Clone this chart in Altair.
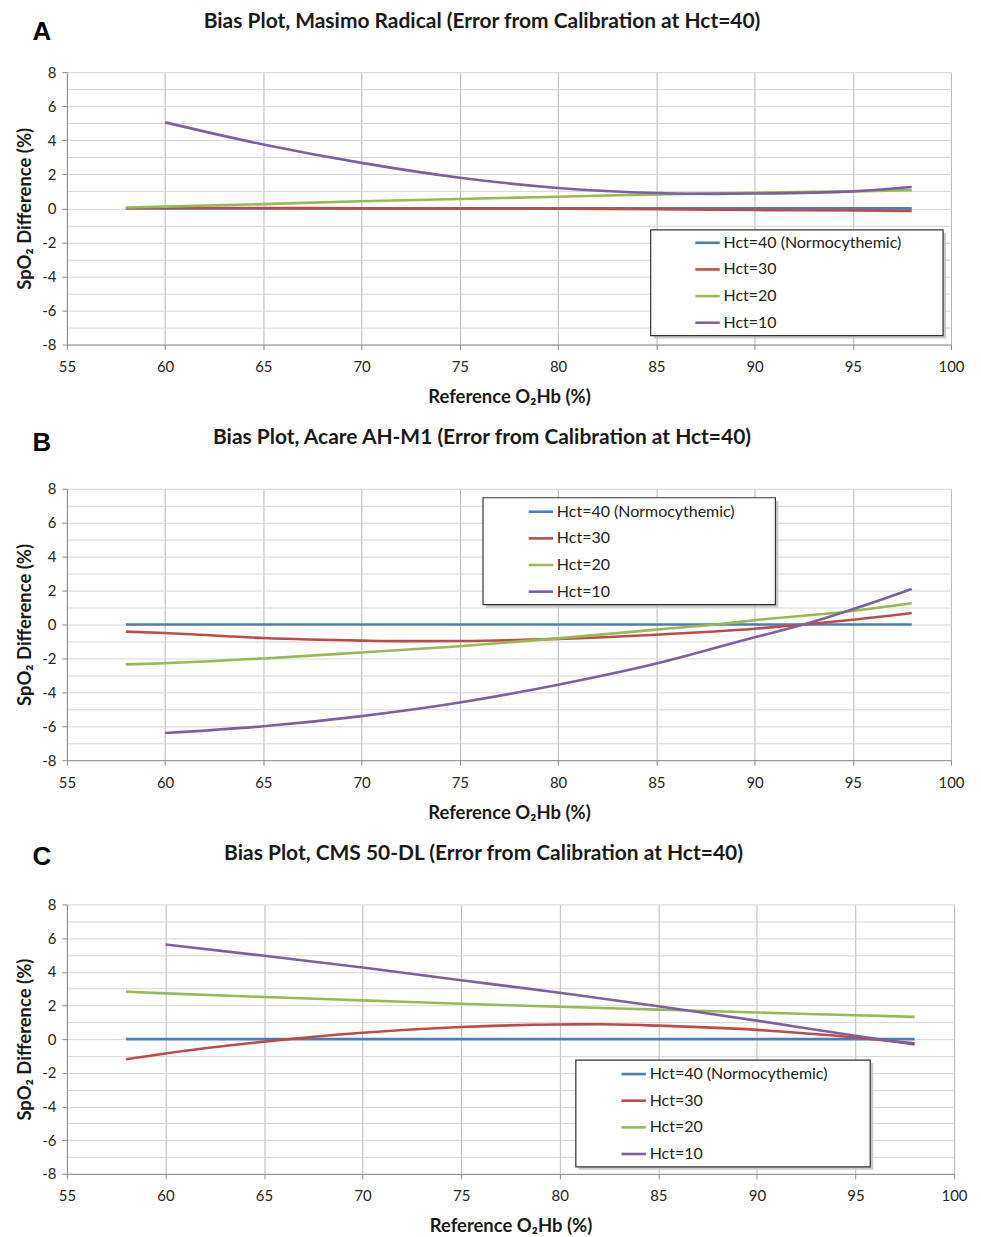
import altair as alt
import pandas as pd

SERIES = ["Hct=40 (Normocythemic)", "Hct=30", "Hct=20", "Hct=10"]
COLORS = ["#4A7EBB", "#BE4B48", "#98B954", "#7D60A0"]

# ---- Panel A: Masimo Radical ----
A_x40 = [58, 98]
A_y40 = [0.0, 0.0]
A_x30 = [58, 60, 65, 70, 75, 80, 85, 90, 95, 98]
A_y30 = [0.02, 0.02, 0.02, 0.0, 0.0, -0.02, -0.05, -0.1, -0.12, -0.15]
A_x20 = [58, 60, 65, 70, 75, 80, 85, 90, 95, 98]
A_y20 = [0.05, 0.1, 0.25, 0.42, 0.55, 0.68, 0.82, 0.92, 1.0, 1.07]
A_x10 = [60, 65, 70, 75, 80, 85, 88, 90, 95, 98]
A_y10 = [5.05, 3.75, 2.67, 1.8, 1.2, 0.9, 0.85, 0.87, 1.0, 1.25]

# ---- Panel B: Acare AH-M1 ----
B_x40 = [58, 98]
B_y40 = [0.0, 0.0]
B_x30 = [58, 60, 65, 70, 72, 75, 80, 85, 90, 92.5, 95, 98]
B_y30 = [-0.42, -0.5, -0.8, -0.95, -0.98, -0.97, -0.85, -0.6, -0.25, 0.0, 0.28, 0.68]
B_x20 = [58, 60, 65, 70, 75, 80, 85, 88, 90, 95, 98]
B_y20 = [-2.35, -2.28, -2.0, -1.65, -1.28, -0.82, -0.3, 0.0, 0.25, 0.8, 1.25]
B_x10 = [60, 65, 70, 75, 80, 85, 90, 92.5, 95, 98]
B_y10 = [-6.4, -6.0, -5.4, -4.6, -3.55, -2.3, -0.75, 0.0, 0.9, 2.1]

# ---- Panel C: CMS 50-DL ----
C_x40 = [58, 98]
C_y40 = [0.0, 0.0]
C_x30 = [58, 60, 65, 70, 75, 80, 82, 85, 90, 95, 98]
C_y30 = [-1.2, -0.85, -0.15, 0.38, 0.72, 0.87, 0.88, 0.8, 0.55, 0.1, -0.25]
C_x20 = [58, 60, 65, 70, 75, 80, 85, 90, 95, 98]
C_y20 = [2.82, 2.72, 2.5, 2.3, 2.1, 1.92, 1.75, 1.58, 1.42, 1.32]
C_x10 = [60, 65, 70, 75, 80, 85, 90, 95, 98]
C_y10 = [5.62, 4.95, 4.25, 3.5, 2.75, 1.95, 1.1, 0.2, -0.32]

X_TICKS = list(range(55, 101, 5))
Y_TICKS = list(range(-8, 9, 1))

TITLES = [
    "Bias Plot, Masimo Radical (Error from Calibration at Hct=40)",
    "Bias Plot, Acare AH-M1 (Error from Calibration at Hct=40)",
    "Bias Plot, CMS 50-DL (Error from Calibration at Hct=40)",
]
LETTERS = ["A", "B", "C"]


def make_df(xs_list, ys_list):
    rows = []
    for name, xs, ys in zip(SERIES, xs_list, ys_list):
        for x, y in zip(xs, ys):
            rows.append({"x": x, "y": y, "series": name})
    return pd.DataFrame(rows)


def panel(df, title, letter, width, height, box, legend_xy, title_y, letter_y):
    xenc = alt.X(
        "x:Q",
        scale=alt.Scale(domain=[55, 100], nice=False, zero=False),
        axis=alt.Axis(
            values=X_TICKS, title="Reference O\u2082Hb (%)", gridColor="#b8b8b8",
            labelPadding=10, titlePadding=13, labelFlush=False,
        ),
    )
    yenc = alt.Y(
        "y:Q",
        scale=alt.Scale(domain=[-8, 8], nice=False, zero=False),
        axis=alt.Axis(
            values=Y_TICKS, title="SpO\u2082 Difference (%)", gridColor="#d6d6d6",
            labelExpr="datum.value % 2 === 0 ? toString(datum.value) : ''",
            tickOpacity={"condition": {"test": "datum.value % 2 === 0", "value": 1}, "value": 0},
            labelPadding=6, titlePadding=7, labelFlush=False,
        ),
    )
    lines = alt.Chart(df).mark_line(interpolate="monotone", strokeWidth=2.6).encode(
        x=xenc,
        y=yenc,
        color=alt.Color(
            "series:N",
            scale=alt.Scale(domain=SERIES, range=COLORS),
            sort=SERIES,
            legend=alt.Legend(
                title=None, orient="none", legendX=legend_xy[0], legendY=legend_xy[1],
                symbolType="stroke", symbolStrokeWidth=2.6, symbolSize=600,
                labelFont="Lato", labelFontSize=16, labelColor="#222222", labelLimit=400,
                labelOffset=2, rowPadding=4.7, padding=0,
            ),
        ),
    )
    dummy = pd.DataFrame({"t": [letter], "title": [title]})
    x0, y0, x1, y1 = box
    shadow = alt.Chart(dummy).mark_rect(fill="#bdbdbd", opacity=0.8).encode(
        x=alt.value(x0 + 3), x2=alt.value(x1 + 3), y=alt.value(y0 + 3), y2=alt.value(y1 + 3)
    )
    frame = alt.Chart(dummy).mark_rect(fill="white", stroke="#333333", strokeWidth=1.2).encode(
        x=alt.value(x0), x2=alt.value(x1), y=alt.value(y0), y2=alt.value(y1)
    )
    lab = alt.Chart(dummy).mark_text(
        font="Liberation Sans", fontSize=26, fontWeight="bold", color="black",
        align="center", baseline="middle",
    ).encode(text="t:N", x=alt.value(-25), y=alt.value(letter_y))
    ttl = alt.Chart(dummy).mark_text(
        font="Lato", fontSize=21, fontWeight="bold", color="#1a1a1a",
        align="center", baseline="middle",
    ).encode(text="title:N", x=alt.value(width / 2 - 27), y=alt.value(title_y))
    return alt.layer(shadow, frame, lines, lab, ttl).properties(width=width, height=height)


dfA = make_df([A_x40, A_x30, A_x20, A_x10], [A_y40, A_y30, A_y20, A_y10])
dfB = make_df([B_x40, B_x30, B_x20, B_x10], [B_y40, B_y30, B_y20, B_y10])
dfC = make_df([C_x40, C_x30, C_x20, C_x10], [C_y40, C_y30, C_y20, C_y10])

pA = panel(dfA, TITLES[0], LETTERS[0], 886, 273, (585, 158, 878, 264), (628, 157), -50, -40)
pB = panel(dfB, TITLES[1], LETTERS[1], 886, 272, (417, 9, 710, 116), (461, 9), -51, -46)
pC = panel(dfC, TITLES[2], LETTERS[2], 889, 270, (510, 156, 805, 263), (554, 156), -51, -47)

chart = alt.vconcat(pA, pB, pC, spacing=20.5).resolve_scale(color="independent").resolve_legend(
    color="independent"
).configure_view(stroke=None).configure_axis(
    labelFont="Lato", labelFontSize=15, labelColor="#262626",
    titleFont="Lato", titleFontSize=18.5, titleFontWeight="bold", titleColor="#1a1a1a",
    domainColor="#8c8c8c", tickColor="#8c8c8c", tickSize=5, gridWidth=1,
).properties(padding={"left": 7, "top": 2, "right": 5, "bottom": 0}, background="white")

chart.save("out.html", embed_options={"renderer": "svg", "actions": False})
